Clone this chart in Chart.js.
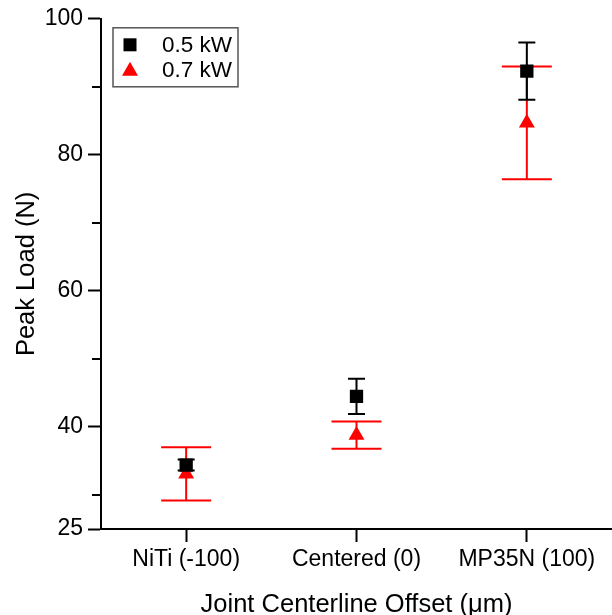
<!DOCTYPE html>
<html>
<head>
<meta charset="utf-8">
<title>Peak Load vs Joint Centerline Offset</title>
<script src="https://cdn.jsdelivr.net/npm/chart.js"></script>
<style>
  html, body { margin: 0; padding: 0; background: #fff; }
  canvas { display: block; }
</style>
</head>
<body>
<canvas id="grafico" width="612" height="615"></canvas>
<script>
// datos
const categorias = ['NiTi (-100)', 'Centered (0)', 'MP35N (100)'];
const carga05 = [34.4, 44.5, 92.3];
const error05 = [0.8, 2.6, 4.2];
const carga07 = [33.1, 38.8, 84.7];
const error07 = [3.9, 2.0, 8.3];
const ticksMayores = [25, 40, 60, 80, 100];
const ticksMenores = [30, 50, 70, 90];

const fuente = 'Liberation Sans, Arial, sans-serif';

// barras de error: linea vertical + tapas, ancho de tapa por serie
const barrasError = {
  id: 'barrasError',
  beforeDatasetsDraw(chart) {
    const ctx = chart.ctx;
    const x = chart.scales.x;
    const y = chart.scales.y;
    [1, 0].forEach(i => {
      const ds = chart.data.datasets[i];
      const media = ds.data;
      const err = ds.errores;
      const tapa = ds.anchoTapa / 2;
      ctx.save();
      ctx.strokeStyle = ds.borderColor;
      ctx.lineWidth = 2;
      for (let k = 0; k < media.length; k++) {
        const px = x.getPixelForValue(k);
        const arriba = y.getPixelForValue(media[k] + err[k]);
        const abajo = y.getPixelForValue(media[k] - err[k]);
        ctx.beginPath();
        ctx.moveTo(px, arriba);
        ctx.lineTo(px, abajo);
        ctx.moveTo(px - tapa, arriba);
        ctx.lineTo(px + tapa, arriba);
        ctx.moveTo(px - tapa, abajo);
        ctx.lineTo(px + tapa, abajo);
        ctx.stroke();
      }
      ctx.restore();
    });
  }
};

// ticks menores del eje y (mas cortos)
const ticksCortos = {
  id: 'ticksCortos',
  afterDraw(chart) {
    const ctx = chart.ctx;
    const y = chart.scales.y;
    const left = chart.chartArea.left;
    ctx.save();
    ctx.strokeStyle = '#000';
    ctx.lineWidth = 2;
    ticksMenores.forEach(v => {
      const py = Math.round(y.getPixelForValue(v));
      ctx.beginPath();
      ctx.moveTo(left - 9, py);
      ctx.lineTo(left, py);
      ctx.stroke();
    });
    ctx.restore();
  }
};

// leyenda dentro del area del grafico
const leyenda = {
  id: 'leyenda',
  afterDraw(chart) {
    const ctx = chart.ctx;
    const a = chart.chartArea;
    const bx = a.left + 12, by = a.top + 9;
    ctx.save();
    ctx.strokeStyle = '#555';
    ctx.lineWidth = 1.5;
    ctx.strokeRect(bx, by, 125, 59);
    ctx.font = '22.5px ' + fuente;
    ctx.textBaseline = 'middle';
    ctx.textAlign = 'left';
    chart.data.datasets.forEach((ds, i) => {
      const cy = by + 17 + i * 25;
      const cx = bx + 17;
      ctx.fillStyle = ds.backgroundColor;
      if (ds.pointStyle === 'rect') {
        ctx.fillRect(cx - 6.5, cy - 6.5, 13, 13);
      } else {
        ctx.beginPath();
        ctx.moveTo(cx, cy - 8);
        ctx.lineTo(cx + 8, cy + 6);
        ctx.lineTo(cx - 8, cy + 6);
        ctx.closePath();
        ctx.fill();
      }
      ctx.fillStyle = '#000';
      ctx.fillText(ds.label, bx + 49, cy + 1);
    });
    ctx.restore();
  }
};

new Chart(document.getElementById('grafico'), {
  type: 'line',
  data: {
    labels: categorias,
    datasets: [
      {
        label: '0.5 kW',
        data: carga05,
        errores: error05,
        anchoTapa: 17,
        showLine: false,
        pointStyle: 'rect',
        pointRadius: 9.4,
        pointBorderWidth: 0,
        backgroundColor: '#000',
        borderColor: '#000'
      },
      {
        label: '0.7 kW',
        data: carga07,
        errores: error07,
        anchoTapa: 50,
        showLine: false,
        pointStyle: 'triangle',
        pointRadius: 9.2,
        pointBorderWidth: 0,
        backgroundColor: '#ff0000',
        borderColor: '#ff0000'
      }
    ]
  },
  options: {
    responsive: false,
    animation: false,
    layout: { autoPadding: false, padding: { top: 18, right: 0, bottom: 0, left: 0 } },
    plugins: {
      legend: { display: false },
      tooltip: { enabled: false }
    },
    scales: {
      x: {
        type: 'category',
        offset: true,
        afterFit(scale) {
          scale.height = 86;
          scale.paddingLeft = 0;
          scale.paddingRight = 0;
        },
        border: { display: true, color: '#000', width: 2 },
        grid: {
          offset: false,
          drawOnChartArea: false,
          drawTicks: true,
          tickLength: 13,
          tickWidth: 2,
          tickColor: '#000'
        },
        ticks: {
          color: '#000',
          padding: 4,
          maxRotation: 0,
          font: { family: fuente, size: 23 }
        },
        title: {
          display: true,
          text: 'Joint Centerline Offset (\u03bcm)',
          color: '#000',
          padding: 0,
          font: { family: fuente, size: 25.5, lineHeight: 0.75 }
        }
      },
      y: {
        min: 25,
        max: 100,
        afterFit(scale) { scale.width = 101; },
        afterBuildTicks(scale) {
          scale.ticks = ticksMayores.map(v => ({ value: v }));
        },
        border: { display: true, color: '#000', width: 2 },
        grid: {
          drawOnChartArea: false,
          drawTicks: true,
          tickLength: 13,
          tickWidth: 2,
          tickColor: '#000'
        },
        ticks: {
          color: '#000',
          padding: 5,
          font: { family: fuente, size: 23 }
        },
        title: {
          display: true,
          text: 'Peak Load (N)',
          color: '#000',
          padding: { top: 12, bottom: 0 },
          font: { family: fuente, size: 25.5 }
        }
      }
    }
  },
  plugins: [barrasError, ticksCortos, leyenda]
});
</script>
</body>
</html>
